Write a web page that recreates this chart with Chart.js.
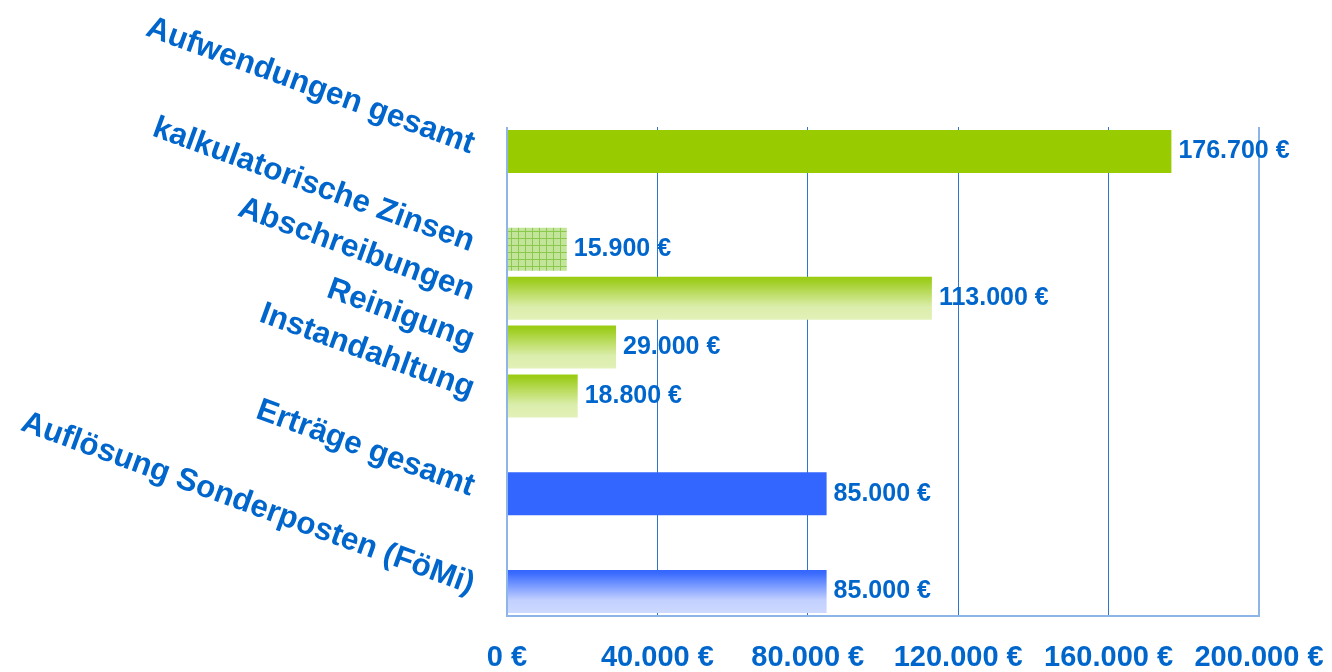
<!DOCTYPE html>
<html><head><meta charset="utf-8">
<script src="https://cdn.jsdelivr.net/npm/chart.js@4.4.1/dist/chart.umd.min.js"></script>
<style>html,body{margin:0;padding:0;background:#fff;} canvas{display:block;}</style>
</head><body>
<canvas id="c" width="1332" height="672"></canvas>
<script>
// ---- data ----
const categories = ['Aufwendungen gesamt', '', 'kalkulatorische Zinsen', 'Abschreibungen', 'Reinigung', 'Instandahltung', '', 'Erträge gesamt', '', 'Auflösung Sonderposten (FöMi)'];
const values = [176700, null, 15900, 113000, 29000, 18800, null, 85000, null, 85000];
const xTickValues = [0, 40000, 80000, 120000, 160000, 200000];

// ---- styles ----
const barKinds = ['solidGreen', null, 'gridGreen', 'gradGreen', 'gradGreen', 'gradGreen', null, 'solidBlue', null, 'gradBlue'];
const BAR_PCT = 0.88;
const TEXT_BLUE = '#0066cc';
const FONT = '"Liberation Sans", Arial, sans-serif';

function fmt(n) {
  return String(n).replace(/\B(?=(\d{3})+(?!\d))/g, '.') + ' €';
}

let gridPattern = null;
function getPattern(ctx) {
  if (gridPattern) return gridPattern;
  const pc = document.createElement('canvas');
  pc.width = 7; pc.height = 7;
  const p = pc.getContext('2d');
  p.fillStyle = '#c2e59b';
  p.fillRect(0, 0, 7, 7);
  p.fillStyle = '#8cc84b';
  p.fillRect(0, 0, 7, 1);
  p.fillRect(0, 0, 1, 7);
  gridPattern = ctx.createPattern(pc, 'repeat');
  return gridPattern;
}

function barColor(c) {
  const kind = barKinds[c.dataIndex];
  const chart = c.chart;
  const ctx = chart.ctx;
  const ys = chart.scales && chart.scales.y;
  if (kind === 'solidGreen') return '#99cc00';
  if (kind === 'solidBlue') return '#3366ff';
  if (kind === 'gridGreen') return getPattern(ctx);
  if (!ys || !chart.chartArea) return kind === 'gradBlue' ? '#3366ff' : '#99cc00';
  const yc = ys.getPixelForValue(c.dataIndex);
  const half = ys.height / categories.length * BAR_PCT / 2;
  const g = ctx.createLinearGradient(0, yc - half, 0, yc + half);
  if (kind === 'gradBlue') {
    g.addColorStop(0, '#3366ff');
    g.addColorStop(0.08, '#3b6cff');
    g.addColorStop(0.7, '#c2d0ff');
    g.addColorStop(1, '#cdd9ff');
  } else {
    g.addColorStop(0, '#99cc11');
    g.addColorStop(0.08, '#9dcd1c');
    g.addColorStop(0.7, '#dbedab');
    g.addColorStop(1, '#e2f1b8');
  }
  return g;
}

const valueLabels = {
  id: 'valueLabels',
  afterDatasetsDraw(chart) {
    const ctx = chart.ctx;
    const meta = chart.getDatasetMeta(0);
    ctx.save();
    ctx.font = 'bold 25px ' + FONT;
    ctx.fillStyle = TEXT_BLUE;
    ctx.textAlign = 'left';
    ctx.textBaseline = 'middle';
    meta.data.forEach((bar, i) => {
      if (values[i] == null) return;
      ctx.fillText(fmt(values[i]), bar.x + 7, bar.y);
    });
    ctx.restore();
  }
};

new Chart(document.getElementById('c'), {
  type: 'bar',
  data: {
    labels: categories,
    datasets: [{
      data: values,
      backgroundColor: barColor,
      borderWidth: 0,
      barPercentage: BAR_PCT,
      categoryPercentage: 1
    }]
  },
  options: {
    indexAxis: 'y',
    responsive: false,
    animation: false,
    layout: { padding: { top: 127, right: 73, left: 0, bottom: 0 } },
    plugins: { legend: { display: false }, tooltip: { enabled: false } },
    scales: {
      x: {
        min: 0, max: 200000,
        afterBuildTicks: s => { s.ticks = xTickValues.map(v => ({ value: v })); },
        afterFit: s => { s.height = 56; s.paddingLeft = 0; s.paddingRight = 0; },
        ticks: {
          callback: v => fmt(v),
          color: TEXT_BLUE,
          font: { family: FONT, size: 29, weight: 'bold' },
          padding: 25, maxRotation: 0, autoSkip: false
        },
        grid: {
          drawTicks: false,
          color: c => (c.index === 0 || c.index === xTickValues.length - 1) ? '#8db5e8' : '#2f75d0',
          lineWidth: c => (c.index === 0 || c.index === xTickValues.length - 1) ? 2 : 1
        },
        border: { display: true, color: '#8db5e8', width: 2 }
      },
      y: {
        afterFit: s => { s.width = 507; s.paddingTop = 0; s.paddingBottom = 0; },
        grid: { display: false, drawTicks: false },
        border: { display: false },
        ticks: {
          minRotation: -20,
          autoSkip: false,
          color: TEXT_BLUE,
          font: { family: FONT, size: 31.5, weight: 'bold' },
          padding: 34,
          labelOffset: -6
        }
      }
    }
  },
  plugins: [valueLabels]
});
</script>
</body></html>
